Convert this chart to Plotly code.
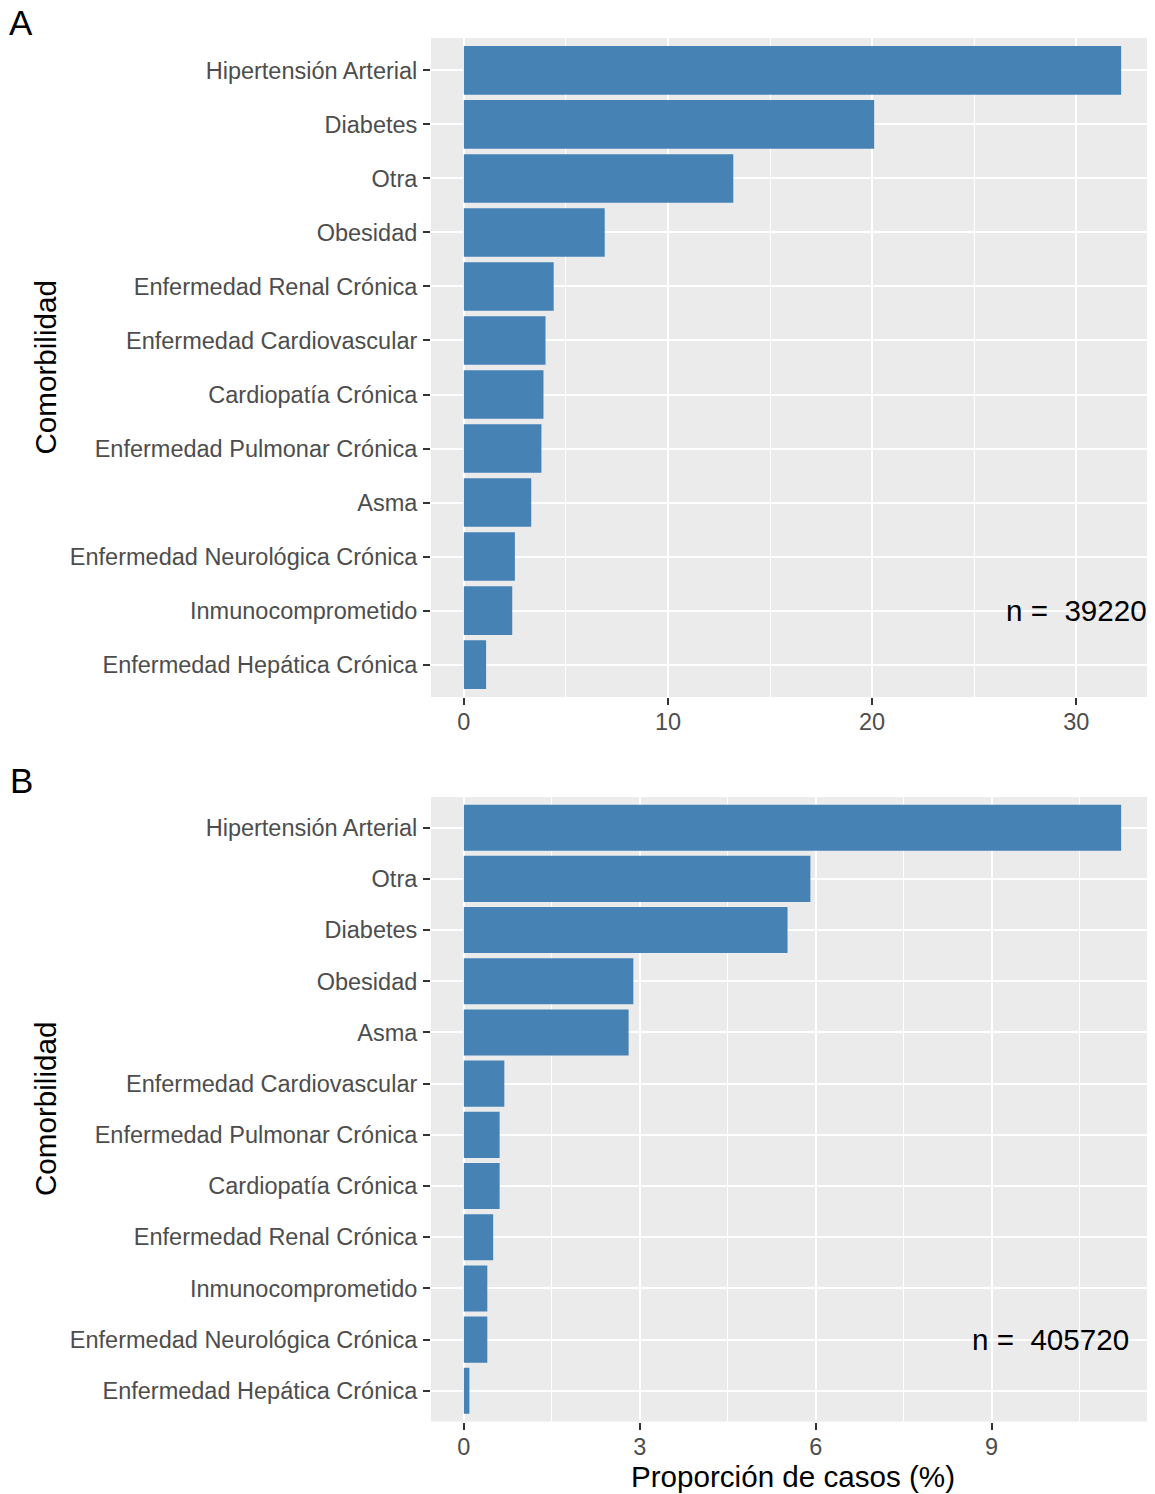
import plotly.graph_objects as go
from plotly.subplots import make_subplots

# ---- data ----
cats_a = ["Hipertensión Arterial", "Diabetes", "Otra", "Obesidad",
          "Enfermedad Renal Crónica", "Enfermedad Cardiovascular",
          "Cardiopatía Crónica", "Enfermedad Pulmonar Crónica", "Asma",
          "Enfermedad Neurológica Crónica", "Inmunocomprometido",
          "Enfermedad Hepática Crónica"]
vals_a = [32.2, 20.1, 13.2, 6.9, 4.4, 4.0, 3.9, 3.8, 3.3, 2.5, 2.37, 1.09]

cats_b = ["Hipertensión Arterial", "Otra", "Diabetes", "Obesidad", "Asma",
          "Enfermedad Cardiovascular", "Enfermedad Pulmonar Crónica",
          "Cardiopatía Crónica", "Enfermedad Renal Crónica",
          "Inmunocomprometido", "Enfermedad Neurológica Crónica",
          "Enfermedad Hepática Crónica"]
vals_b = [11.21, 5.91, 5.52, 2.89, 2.81, 0.69, 0.61, 0.61, 0.50, 0.40, 0.40, 0.094]

n_a = "n =  39220"
n_b = "n =  405720"
ticks_a = [0, 10, 20, 30]
ticks_b = [0, 3, 6, 9]

# ---- figure ----
# The page body has an 8px default margin; size the figure to fill the window.
OFF = 8
W, H = 1155 - OFF, 1494 - OFF
FONT = "Liberation Sans, Arial, sans-serif"
BAR = "#4682B4"
PANEL = "#EBEBEB"


def px(x):
    return (x - OFF) / W


def py(y):
    return 1 - (y - OFF) / H


fig = make_subplots(rows=2, cols=1)
fig.add_trace(go.Bar(x=vals_a, y=cats_a, orientation="h", marker_color=BAR,
                     marker_line_width=0, showlegend=False), row=1, col=1)
fig.add_trace(go.Bar(x=vals_b, y=cats_b, orientation="h", marker_color=BAR,
                     marker_line_width=0, showlegend=False), row=2, col=1)

xdom = [px(431), px(1154)]
ydom_a = [py(697), py(38)]
ydom_b = [py(1421.5), py(797)]

tickfont = dict(family=FONT, size=23.5, color="#4D4D4D")


def xax(vals, ticks, minor_dt, dom_anchor):
    m = max(vals)
    return dict(domain=xdom, anchor=dom_anchor, range=[-0.05 * m, 1.05 * m],
                tickmode="array", tickvals=ticks, ticktext=[str(t) for t in ticks],
                ticks="outside", ticklen=7, tickwidth=2, tickcolor="#333333",
                tickfont=tickfont, ticklabelstandoff=-3,
                showgrid=True, gridcolor="white", gridwidth=2.2,
                zeroline=False, showline=False,
                minor=dict(dtick=minor_dt, tick0=0, showgrid=True,
                           gridcolor="white", gridwidth=1.1, ticks=""),
                automargin=False)


def yax(cats, dom, dom_anchor):
    return dict(domain=dom, anchor=dom_anchor, type="category",
                categoryorder="array", categoryarray=list(reversed(cats)),
                range=[-0.6, len(cats) - 0.4],
                ticks="outside", ticklen=7, tickwidth=2, tickcolor="#333333",
                tickfont=tickfont, ticklabelstandoff=1,
                showgrid=True, gridcolor="white", gridwidth=2.2,
                zeroline=False, showline=False, automargin=False)


fig.update_layout(
    width=W, height=H,
    margin=dict(l=0, r=0, t=0, b=0),
    paper_bgcolor="white", plot_bgcolor=PANEL,
    bargap=0.1,
    font=dict(family=FONT),
    xaxis=xax(vals_a, ticks_a, 5, "y"),
    yaxis=yax(cats_a, ydom_a, "x"),
    xaxis2=xax(vals_b, ticks_b, 1.5, "y2"),
    yaxis2=yax(cats_b, ydom_b, "x2"),
)

big = dict(family=FONT, size=29.6, color="black")
C = dict(xanchor="center", yanchor="middle", showarrow=False)
ann = [
    dict(text="A", x=px(21), y=py(22), xref="paper", yref="paper",
         font=dict(family=FONT, size=35, color="black"), **C),
    dict(text="B", x=px(21), y=py(780), xref="paper", yref="paper",
         font=dict(family=FONT, size=35, color="black"), **C),
    dict(text="Comorbilidad", x=px(45), y=py(367.5), xref="paper", yref="paper",
         textangle=-90, font=big, **C),
    dict(text="Comorbilidad", x=px(45), y=py(1109), xref="paper", yref="paper",
         textangle=-90, font=big, **C),
    dict(text="Proporción de casos (%)", x=px(792.5), y=py(1476),
         xref="paper", yref="paper", font=big, **C),
    dict(text=n_a, x=30, y=cats_a[-2], xref="x", yref="y", font=big, **C),
    dict(text=n_b, x=10, y=cats_b[-2], xref="x2", yref="y2", font=big, **C),
]
fig.update_layout(annotations=ann)

fig.write_html("out.html")
